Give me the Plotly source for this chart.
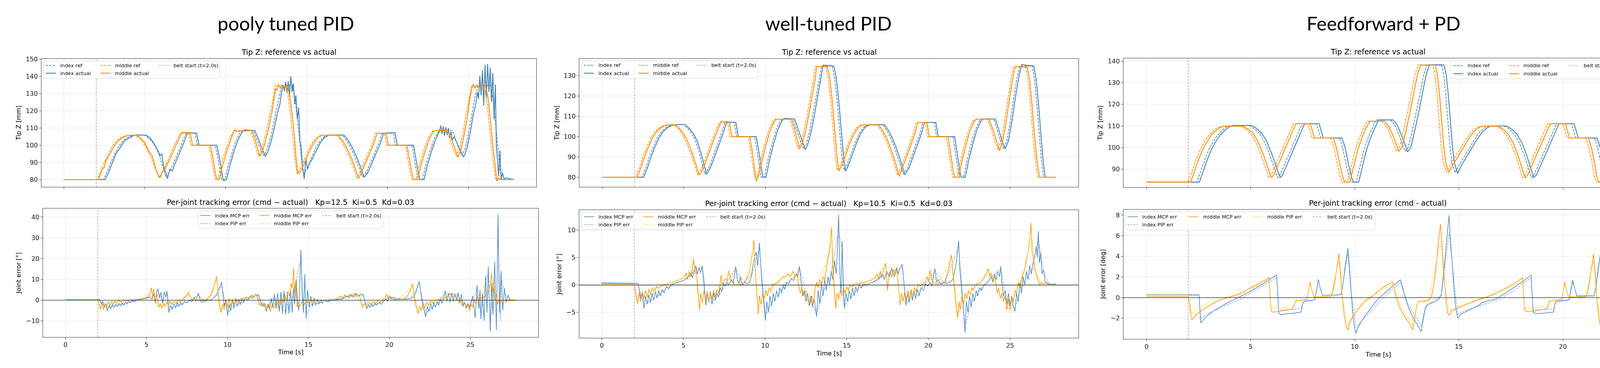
import plotly.graph_objects as go

W, H = 4198, 941

# ---------------- data ----------------
BELT_START = 2.0

# Tip Z reference (same trajectory for both PID runs), [t s, z mm]
PID_MID_REF = [(0,80),(2.05,80),(2.3,85),(2.5,90),(2.75,95),(3.0,99.5),(3.25,102.5),(3.5,104.3),(3.75,105.4),(4.0,105.8),(4.4,105.8),(4.65,104),(4.9,101.5),(5.15,97.5),(5.4,92.5),(5.65,86.5),(5.88,81),(6.05,83.5),(6.3,88.5),(6.55,94),(6.8,99.5),(7.05,104.5),(7.2,107),(7.7,107),(7.85,100),(8.95,100),(9.1,93),(9.25,85),(9.35,80),(9.5,80),(9.7,88),(9.95,96),(10.2,103),(10.45,107.5),(10.6,108.6),(11.5,108.6),(11.7,104),(11.9,97),(12.0,94),(12.15,96),(12.35,102),(12.55,110),(12.75,119),(12.95,128),(13.05,134.5),(13.7,134.5),(13.85,129),(14.0,118),(14.15,104),(14.3,90),(14.4,83.5),(14.6,86),(14.85,91.5),(15.1,97),(15.35,101.5),(15.6,104.5),(15.85,105.8),(16.85,105.8),(17.1,103),(17.35,99),(17.6,94),(17.85,88),(18.1,81),(18.3,84.5),(18.55,90),(18.8,95.5),(19.05,101),(19.25,107),(19.8,107),(19.95,100),(21.1,100),(21.25,92),(21.4,84),(21.5,80),(21.75,80),(21.95,88),(22.2,96),(22.45,103),(22.7,107.5),(22.85,108.6),(23.6,108.6),(23.85,103.5),(24.05,98),(24.25,93.5),(24.45,98),(24.65,107),(24.85,118),(25.05,128),(25.2,134.3),(25.95,134.3),(26.1,128),(26.25,115),(26.4,100),(26.55,88),(26.7,80),(27.8,80)]
PID_IDX_REF = [(0,80),(2.45,80),(2.7,85),(2.9,90),(3.15,95),(3.4,99.5),(3.65,102.5),(3.9,104.3),(4.15,105.4),(4.4,105.9),(5.0,105.9),(5.25,104),(5.5,101.5),(5.75,97.5),(5.95,92.5),(6.15,86.5),(6.3,81.5),(6.5,84),(6.75,89),(7.0,94.5),(7.25,100),(7.45,105),(7.55,107),(8.1,107),(8.25,100),(9.35,100),(9.5,93),(9.65,85),(9.75,80),(9.95,80),(10.15,88),(10.4,96),(10.65,103),(10.9,107.5),(11.05,108.7),(11.7,108.7),(11.9,104),(12.1,99),(12.35,94),(12.5,96),(12.7,102),(12.9,110),(13.1,119),(13.3,128),(13.45,134.8),(14.1,134.8),(14.25,129),(14.4,118),(14.55,104),(14.7,90),(14.82,83.5),(15.0,86),(15.25,91.5),(15.5,97),(15.75,101.5),(16.0,104.5),(16.3,105.9),(17.2,105.9),(17.45,103),(17.7,99),(17.95,94),(18.2,88),(18.45,81.5),(18.7,84.5),(18.95,90),(19.2,95.5),(19.45,101),(19.65,107),(20.35,107),(20.5,100),(21.5,100),(21.65,92),(21.8,84),(21.9,80),(22.15,80),(22.35,88),(22.6,96),(22.85,103),(23.1,107.5),(23.25,108.7),(24.0,108.7),(24.2,103.5),(24.4,98),(24.6,94),(24.8,98),(25.0,107),(25.2,118),(25.4,128),(25.6,134.8),(26.35,134.8),(26.5,128),(26.65,115),(26.8,100),(26.92,88),(27.05,80),(27.8,80)]

# poorly tuned PID: actual tip Z
P1_IDX_ACT = [(0,80),(2.55,80),(2.8,85),(3.0,90),(3.25,95.5),(3.5,99),(3.75,102.5),(4.0,104),(4.25,105.4),(4.5,106),(5.1,105.8),(5.35,104),(5.6,100.5),(5.8,97),(5.95,94),(6.05,95),(6.15,88),(6.3,84),(6.4,80.5),(6.55,86),(6.7,85),(6.85,89),(7.1,94.5),(7.35,100),(7.55,105),(7.65,107.2),(8.2,107),(8.35,100),(9.45,100),(9.6,93),(9.75,85),(9.85,79.5),(10.05,80),(10.25,88),(10.5,96),(10.75,103),(11.0,107.5),(11.15,109),(11.8,108.5),(12.0,104),(12.2,99),(12.45,93.5),(12.6,96),(12.8,102),(13.0,110),(13.2,119),(13.35,124),(13.45,131),(13.55,135),(13.62,131.5),(13.7,137),(13.78,130.6),(13.86,137.2),(13.94,128.3),(14.02,140.2),(14.1,131),(14.18,136),(14.26,124),(14.34,129),(14.42,115),(14.5,122),(14.58,103),(14.66,99),(14.74,88),(14.85,80.5),(14.95,92),(15.05,86),(15.2,90),(15.35,92),(15.6,97),(15.85,101.5),(16.1,104.5),(16.4,105.9),(17.3,105.9),(17.55,103),(17.8,99),(18.05,94),(18.3,88),(18.55,81.2),(18.8,84.5),(19.05,90),(19.3,95.5),(19.55,101),(19.75,107),(20.45,107.3),(20.6,100),(21.6,100),(21.75,92),(21.9,84),(22.0,80),(22.25,80),(22.45,88),(22.7,96),(22.95,103),(23.1,106),(23.2,108),(23.28,111.5),(23.36,106.5),(23.44,111),(23.52,105.5),(23.6,110.5),(23.68,106),(23.76,110),(23.84,104.5),(23.92,108),(24.0,103),(24.1,105),(24.3,101),(24.5,97),(24.7,93),(24.9,98),(25.1,107),(25.3,118),(25.45,124),(25.55,131),(25.62,127),(25.7,140.5),(25.78,129),(25.86,143.5),(25.94,123),(26.02,146.9),(26.1,127),(26.18,147.3),(26.26,131),(26.34,145.1),(26.42,125),(26.5,142.1),(26.58,115),(26.66,135.3),(26.72,100),(26.8,90),(26.86,82),(26.94,97),(27.02,80),(27.1,84),(27.2,80),(27.3,81),(27.8,80)]
P1_MID_ACT = [(0,80),(2.15,80),(2.35,86),(2.5,87),(2.6,91),(2.85,95),(3.1,99.5),(3.35,102.5),(3.6,104.3),(3.85,105.4),(4.1,105.8),(4.5,105.8),(4.75,104),(5.0,101.5),(5.25,96.5),(5.45,94),(5.6,89),(5.75,84),(5.95,81),(6.1,85),(6.25,86),(6.4,89),(6.65,94),(6.9,99.5),(7.15,104.5),(7.3,107.5),(7.8,107.3),(7.95,100),(9.05,100),(9.2,93),(9.35,84),(9.45,80),(9.6,80),(9.8,88),(10.05,96),(10.3,103),(10.45,107),(10.55,109),(10.65,108),(11.6,108.6),(11.8,104),(12.0,97),(12.1,93.5),(12.25,96),(12.45,102),(12.65,110),(12.85,119),(13.0,128),(13.08,133),(13.15,132),(13.25,135.5),(13.35,133.5),(13.45,135),(13.6,134),(13.8,134.5),(13.95,129),(14.1,118),(14.25,104),(14.35,92),(14.45,84),(14.55,83.5),(14.7,86),(14.95,91.5),(15.2,97),(15.45,101.5),(15.7,104.5),(15.95,105.8),(16.95,105.8),(17.2,103),(17.45,99),(17.7,94),(17.95,88),(18.2,80.5),(18.4,84.5),(18.65,90),(18.9,95.5),(19.15,101),(19.35,107),(19.9,107),(20.05,100),(21.2,100),(21.35,92),(21.5,84),(21.6,80),(21.85,80),(22.05,88),(22.3,96),(22.55,103),(22.8,107.5),(22.95,108.6),(23.7,108.6),(23.95,103.5),(24.15,98),(24.35,93),(24.55,98),(24.75,107),(24.95,118),(25.1,128),(25.2,133),(25.3,135.5),(25.4,133),(25.5,135),(25.65,133.5),(25.8,134.8),(26.05,134.3),(26.2,128),(26.35,115),(26.5,100),(26.65,88),(26.75,79),(26.85,81),(27.0,80),(27.8,80)]

# poorly tuned PID: joint errors [t s, deg]
P1_IDX_MCP = [(0,0.3),(1.0,0.35),(2.0,0.3),(2.1,0.2),(2.2,-1.5),(2.3,-0.5),(2.4,-3.5),(2.5,-1.8),(2.58,-5.1),(2.7,-2.5),(2.8,-4.2),(2.9,-2),(3.0,-3.5),(3.1,-1.8),(3.2,-3.2),(3.3,-1.5),(3.4,-2.8),(3.5,-1.2),(3.6,-2.4),(3.7,-0.8),(3.8,-1.9),(3.9,-0.5),(4.0,-1.3),(4.1,-0.2),(4.25,-0.8),(4.4,0.1),(4.6,0.3),(4.8,0.6),(5.0,1.0),(5.2,1.5),(5.35,0.5),(5.45,3.2),(5.55,-1.5),(5.65,4.5),(5.72,5.5),(5.8,1),(5.9,3.8),(6.0,-1.5),(6.1,4),(6.2,1.5),(6.27,4.5),(6.33,-2),(6.39,-6),(6.5,-2.5),(6.6,-4.5),(6.7,-1.5),(6.8,-3.8),(6.9,-1.2),(7.0,-3),(7.1,-0.8),(7.2,-2.2),(7.35,-0.5),(7.5,-1.3),(7.65,0.2),(7.8,-0.8),(7.95,1.5),(8.05,-0.5),(8.2,3.4),(8.3,0.5),(8.4,-1.2),(8.5,0.2),(8.6,-0.8),(8.75,0.3),(8.9,-0.3),(9.05,0.5),(9.2,1.5),(9.35,3),(9.5,6),(9.64,8.6),(9.72,3),(9.8,-3),(9.9,0.5),(10.02,-7.5),(10.1,-2),(10.2,-5),(10.3,0.5),(10.4,-4),(10.5,0.8),(10.6,-3),(10.7,0.5),(10.8,-2.2),(10.9,0.8),(11.0,-1),(11.1,1.2),(11.25,0),(11.4,1.8),(11.55,1),(11.7,2.5),(11.87,2.7),(11.95,2),(12.05,-1),(12.15,-3),(12.25,-1.5),(12.4,-5.4),(12.5,-2),(12.6,-4.5),(12.7,1),(12.8,-3.5),(12.9,3),(13.0,-4),(13.1,3.5),(13.2,-5.5),(13.3,4),(13.4,-6.5),(13.5,4.5),(13.6,-7),(13.7,4),(13.8,-6.5),(13.9,5),(14.0,-6),(14.08,6),(14.15,-2),(14.25,10),(14.32,0),(14.4,-5),(14.47,8),(14.54,24.3),(14.62,2),(14.7,-6),(14.78,12.6),(14.86,-9.1),(14.95,5),(15.05,-3.5),(15.15,2),(15.25,-3),(15.35,1),(15.45,-2.5),(15.55,0.5),(15.65,-2),(15.75,0.3),(15.85,-1.5),(16.0,0.2),(16.2,-0.8),(16.4,0),(16.6,0),(16.8,0.2),(17.0,0.4),(17.2,1.0),(17.35,2.2),(17.5,1.2),(17.65,2.8),(17.8,1.5),(17.95,3.3),(18.1,2),(18.25,3),(18.4,2.5),(18.5,-1),(18.6,-4.2),(18.7,-2),(18.8,-3.5),(18.9,-1.8),(19.0,-3),(19.1,-1.5),(19.2,-2.5),(19.35,-1.2),(19.5,-2),(19.65,-0.5),(19.8,0.5),(19.9,-0.5),(20.0,2.2),(20.1,0.5),(20.25,1.5),(20.4,0),(20.55,1),(20.7,0.5),(20.9,0.6),(21.1,0.5),(21.3,0.8),(21.5,1.5),(21.65,4),(21.75,7),(21.85,9.1),(21.95,3),(22.05,-2),(22.15,-5),(22.24,-8.1),(22.35,-3),(22.45,-5.5),(22.55,-1.5),(22.65,-4.5),(22.75,-1),(22.85,-3.5),(22.95,-0.5),(23.05,-2.5),(23.15,0.5),(23.25,-1.5),(23.35,1),(23.45,4.5),(23.55,-0.5),(23.65,3.5),(23.75,-1),(23.85,3.6),(23.95,-0.5),(24.05,3),(24.15,0),(24.25,3.5),(24.35,-1),(24.45,2.8),(24.55,-3),(24.65,-1),(24.75,-4),(24.85,-1.5),(24.95,-3.5),(25.05,-0.5),(25.15,2),(25.3,-8.5),(25.42,7.3),(25.52,-4),(25.6,5),(25.65,-9.1),(25.75,3),(25.85,-9.8),(25.95,11.7),(26.03,-6),(26.11,16.2),(26.23,-15),(26.31,8),(26.4,-7),(26.51,18.4),(26.61,-14.4),(26.71,41.5),(26.8,-6),(26.9,14),(27.0,-5),(27.1,5.9),(27.2,-1),(27.34,2.4),(27.45,0),(27.8,0)]
P1_IDX_PIP = [(0,0.4),(2.0,0.4),(2.2,-1),(2.5,-3.5),(2.8,-3),(3.2,-2.5),(3.6,-1.8),(4.0,-0.8),(4.4,0),(5.0,0.8),(5.4,2),(5.7,4.5),(6.0,0),(6.3,3.5),(6.4,-4.5),(6.8,-3),(7.2,-1.8),(7.6,-0.5),(8.2,2.5),(8.5,-0.5),(9.0,0.3),(9.4,2.5),(9.64,7),(10.02,-6),(10.4,-3),(10.8,-1.5),(11.3,0.5),(11.87,2.3),(12.4,-4.5),(12.9,2),(13.2,-4.5),(13.5,3.5),(13.8,-5),(14.1,4),(14.54,20),(14.7,-4),(14.78,10),(14.86,-7.5),(15.2,-2),(15.8,-1),(16.5,0),(17.3,1.5),(17.95,2.8),(18.4,2),(18.6,-3.5),(19.0,-2.5),(19.6,-0.5),(20.0,1.8),(20.6,0.5),(21.3,0.7),(21.85,7.5),(22.24,-6.5),(22.6,-3.5),(23.0,-1.5),(23.4,3.5),(23.8,3),(24.2,2.8),(24.6,-2),(25.0,-2.5),(25.42,5.5),(25.65,-7),(25.95,9.5),(26.11,13),(26.23,-12),(26.51,15),(26.61,-11.5),(26.71,33),(26.86,-10),(26.9,11),(27.1,4.5),(27.3,0.5),(27.8,0)]
P1_MID_MCP = [(0,0.3),(2.0,0.3),(2.08,-2),(2.15,-4.8),(2.25,-1),(2.35,-4.5),(2.45,-1.5),(2.55,-3),(2.65,-0.8),(2.75,-2.5),(2.85,-0.5),(2.95,-2),(3.05,-0.3),(3.15,-1.5),(3.3,0),(3.45,-1),(3.6,0.2),(3.8,-0.5),(4.0,0.2),(4.3,0.3),(4.6,0.6),(4.9,1.2),(5.1,1.5),(5.2,3),(5.3,6),(5.38,1),(5.45,5.5),(5.55,-1),(5.65,3),(5.75,-3.5),(5.85,-1.5),(5.95,-4),(6.05,-1.5),(6.15,-3),(6.25,-1),(6.35,-2.5),(6.45,-0.5),(6.55,-2),(6.7,-0.5),(6.85,-1.5),(7.0,0.2),(7.15,-0.5),(7.3,1),(7.5,2.2),(7.6,3.8),(7.7,1.5),(7.85,0),(8.0,0.3),(8.2,-0.3),(8.4,0.3),(8.6,0),(8.8,1),(9.0,2.5),(9.15,6),(9.25,9),(9.33,11.4),(9.42,4),(9.5,-2),(9.6,-6),(9.7,-2),(9.8,-4.5),(9.9,0.5),(10.0,-3.5),(10.1,1),(10.2,-3),(10.3,0.5),(10.4,-2),(10.55,0.5),(10.7,-1),(10.85,1),(11.0,0.5),(11.2,1.5),(11.35,1),(11.5,2.5),(11.6,1.5),(11.75,3),(11.9,0),(12.0,-2.5),(12.1,-1),(12.2,-3),(12.3,-1.5),(12.45,-4),(12.55,-2),(12.66,-5.5),(12.75,-2.5),(12.85,-4),(12.95,-1),(13.05,-3),(13.15,0),(13.25,-2),(13.35,1),(13.45,-1.5),(13.55,2),(13.65,0),(13.75,4),(13.85,2),(13.95,8),(14.02,6),(14.09,15.5),(14.16,3),(14.22,9),(14.3,-3),(14.38,-1.5),(14.46,-3),(14.6,-1),(14.75,-2),(14.9,-0.5),(15.05,-1.5),(15.2,0),(15.35,-1),(15.5,0.2),(15.7,-0.5),(15.9,0),(16.2,0.2),(16.5,0.3),(16.8,0.8),(17.0,2),(17.1,1),(17.25,2.5),(17.4,1.5),(17.55,2.8),(17.7,1.5),(17.85,3.3),(18.0,1.8),(18.15,2.5),(18.25,-1),(18.35,-3.5),(18.45,-1.5),(18.55,-2.5),(18.7,-1),(18.85,-2),(19.0,-0.8),(19.15,-1.5),(19.3,-0.3),(19.45,-1),(19.6,0.2),(19.75,1.2),(19.85,3),(19.95,0.5),(20.1,1.5),(20.25,0.2),(20.4,0.5),(20.6,0.3),(20.8,0.5),(21.0,1),(21.15,2.5),(21.3,5),(21.43,7.9),(21.52,3),(21.6,-1.5),(21.7,-4),(21.78,-6.5),(21.88,-3),(21.98,-5),(22.1,-1.5),(22.2,-3.5),(22.3,-1),(22.42,-2.5),(22.55,-0.5),(22.7,-1.5),(22.85,0),(23.0,0.2),(23.2,0.5),(23.4,1),(23.6,2),(23.75,3),(23.9,1.5),(24.05,2.5),(24.2,0.5),(24.3,-1.5),(24.4,-0.5),(24.5,-2.5),(24.6,-1),(24.75,-3),(24.85,-2),(24.96,-5),(25.05,-2),(25.15,-3.5),(25.25,0.5),(25.35,-2),(25.45,2),(25.55,0),(25.65,1.5),(25.75,0.5),(25.9,2),(26.05,3),(26.15,5),(26.25,8),(26.31,13),(26.38,4),(26.45,8),(26.52,0),(26.6,3),(26.68,-2),(26.78,0.5),(26.88,-1),(27.0,0),(27.2,-0.2),(27.8,-0.2)]
P1_MID_PIP = [(0,0.2),(2.0,0.2),(2.15,-3.5),(2.4,-3),(2.8,-1.5),(3.3,-0.5),(4.0,0),(4.9,1),(5.3,4.5),(5.45,4),(5.75,-3),(5.95,-3),(6.4,-1.5),(7.0,0),(7.6,3),(8.0,0.2),(8.8,0.8),(9.33,9.5),(9.6,-5),(10.0,-2.5),(10.5,0),(11.0,0.5),(11.75,2.5),(12.2,-2.5),(12.66,-4.5),(13.2,-1.5),(13.75,3.5),(14.09,12.5),(14.3,-2.5),(14.75,-1.5),(15.5,0),(16.5,0.3),(17.3,2),(17.85,2.8),(18.35,-3),(19.0,-1),(19.85,2.5),(20.5,0.4),(21.43,6.5),(21.78,-5.5),(22.2,-3),(22.85,0),(23.75,2.5),(24.2,0.5),(24.96,-4),(25.5,0.5),(26.31,10.5),(26.6,2.5),(27.0,0),(27.8,-0.1)]

# well-tuned PID: actual tip Z
P2_IDX_ACT = [(0,80),(2.55,80),(2.8,85),(3.0,90),(3.25,95),(3.5,99.5),(3.75,102.5),(4.0,104.3),(4.25,105.4),(4.5,105.9),(5.1,105.9),(5.35,104),(5.6,101.5),(5.85,97.5),(6.05,92.5),(6.25,86.5),(6.4,81.5),(6.6,84),(6.85,89),(7.1,94.5),(7.35,100),(7.55,105),(7.65,107.2),(8.2,107),(8.35,100),(9.45,100),(9.6,93),(9.75,85),(9.85,80),(10.05,80),(10.25,88),(10.5,96),(10.75,103),(11.0,107.5),(11.15,109),(11.8,108.7),(12.0,104),(12.2,99),(12.45,93.5),(12.6,96),(12.8,102),(13.0,110),(13.2,119),(13.4,128),(13.55,135.2),(14.2,134.8),(14.35,129),(14.5,118),(14.65,104),(14.8,90),(14.92,83),(15.1,86),(15.35,91.5),(15.6,97),(15.85,101.5),(16.1,104.5),(16.4,105.9),(17.3,105.9),(17.55,103),(17.8,99),(18.05,94),(18.3,88),(18.55,81.2),(18.8,84.5),(19.05,90),(19.3,95.5),(19.55,101),(19.75,107),(20.45,107),(20.6,100),(21.6,100),(21.75,92),(21.9,84),(22.0,80),(22.25,80),(22.45,88),(22.7,96),(22.95,103),(23.2,107.5),(23.35,108.7),(24.1,108.7),(24.3,103.5),(24.5,98),(24.7,94),(24.9,98),(25.1,107),(25.3,118),(25.5,128),(25.7,135.5),(26.45,134.8),(26.6,128),(26.75,115),(26.9,100),(27.02,88),(27.15,80),(27.8,80)]
P2_MID_ACT = [(0,80),(2.15,80),(2.4,85),(2.6,90),(2.85,95),(3.1,99.5),(3.35,102.5),(3.6,104.3),(3.85,105.4),(4.1,105.8),(4.5,105.8),(4.75,104),(5.0,101.5),(5.25,97.5),(5.5,92.5),(5.75,86.5),(5.95,81),(6.15,83.5),(6.4,88.5),(6.65,94),(6.9,99.5),(7.15,104.5),(7.3,107.5),(7.8,107.3),(7.95,100),(9.05,100),(9.2,93),(9.35,84),(9.45,78),(9.6,81),(9.8,88),(10.05,96),(10.3,103),(10.55,107.5),(10.7,108.6),(11.6,108.6),(11.8,104),(12.0,97),(12.1,94),(12.25,96),(12.45,102),(12.65,110),(12.85,119),(13.05,128),(13.15,134.5),(13.8,134.5),(13.95,129),(14.1,118),(14.25,104),(14.4,90),(14.5,83),(14.7,86),(14.95,91.5),(15.2,97),(15.45,101.5),(15.7,104.5),(15.95,105.8),(16.95,105.8),(17.2,103),(17.45,99),(17.7,94),(17.95,88),(18.2,80.5),(18.4,84.5),(18.65,90),(18.9,95.5),(19.15,101),(19.35,107),(19.9,107),(20.05,100),(21.2,100),(21.35,92),(21.5,84),(21.6,80),(21.85,80),(22.05,88),(22.3,96),(22.55,103),(22.8,107.5),(22.95,108.6),(23.7,108.6),(23.95,103.5),(24.15,98),(24.35,93),(24.55,98),(24.75,107),(24.95,118),(25.15,128),(25.3,134.5),(26.05,134.3),(26.2,128),(26.35,115),(26.5,100),(26.65,88),(26.8,80),(27.8,80)]

# well-tuned PID: joint errors
P2_IDX_MCP = [(0,0.4),(1.0,0.35),(2.0,0.35),(2.2,0.3),(2.3,-1),(2.4,-2.5),(2.5,-1.5),(2.58,-4.3),(2.68,-2),(2.78,-3.5),(2.88,-1.8),(2.98,-3.2),(3.08,-1.5),(3.18,-2.8),(3.28,-1.2),(3.38,-2.4),(3.48,-1),(3.58,-2),(3.7,-0.8),(3.82,-1.5),(3.95,-0.3),(4.1,-0.7),(4.25,0.1),(4.45,0.3),(4.65,0.5),(4.85,0.7),(5.05,0.9),(5.2,1.2),(5.35,1.6),(5.45,2.2),(5.55,1.3),(5.65,2.8),(5.75,3.5),(5.85,2),(5.95,3.2),(6.05,2.2),(6.15,3.5),(6.25,1),(6.3,-1.5),(6.36,-3.7),(6.45,-1.5),(6.55,-3),(6.65,-1.2),(6.75,-3.5),(6.85,-1.5),(6.95,-2.8),(7.05,-1.5),(7.15,-2.2),(7.25,-0.5),(7.35,-1.2),(7.45,0.3),(7.55,-0.2),(7.65,0.5),(7.75,0),(7.85,0.5),(7.95,1),(8.05,0.2),(8.2,3.4),(8.3,1),(8.4,0.2),(8.5,1.5),(8.6,0),(8.75,0.5),(8.9,0.2),(9.05,0.5),(9.15,1.5),(9.25,3.5),(9.35,5),(9.45,6),(9.55,3.5),(9.65,7.7),(9.72,4),(9.8,0.5),(9.88,-2),(9.95,-4),(10.02,-6.5),(10.1,-3),(10.2,-5),(10.3,-2),(10.4,-3.8),(10.5,-1.5),(10.6,-3),(10.7,-1),(10.8,-2.2),(10.9,-0.5),(11.0,-1.5),(11.1,0),(11.2,-0.8),(11.3,0.5),(11.45,0.2),(11.6,1.2),(11.75,0.8),(11.9,2),(12.0,1.5),(12.1,3.4),(12.2,0.5),(12.3,-2),(12.4,-1),(12.5,-3),(12.6,-1.5),(12.7,-3.8),(12.8,-2),(12.9,-4),(13.0,-2.5),(13.08,-4.5),(13.15,-5.8),(13.25,-1),(13.35,-3.5),(13.45,0.5),(13.55,-2),(13.65,1),(13.75,-1),(13.85,1.5),(13.95,0),(14.05,2.5),(14.15,1),(14.25,4.5),(14.35,2),(14.42,6),(14.5,12.8),(14.58,2),(14.65,-1.5),(14.72,8),(14.8,-2),(14.86,-4.3),(14.95,-1.5),(15.05,-3),(15.15,-1),(15.25,-2.5),(15.35,-0.5),(15.45,-2),(15.55,-0.3),(15.65,-1.2),(15.75,0),(15.9,-0.5),(16.05,0.2),(16.2,0),(16.4,0.3),(16.6,0.5),(16.8,0.8),(17.0,1.2),(17.15,2),(17.3,1),(17.45,2.5),(17.6,1.5),(17.75,3),(17.9,1.5),(18.05,3.2),(18.15,2),(18.25,3),(18.4,3.8),(18.48,1),(18.55,-1.5),(18.62,-3.7),(18.72,-1.5),(18.82,-3.2),(18.92,-1.2),(19.02,-2.8),(19.12,-1),(19.22,-2.5),(19.32,-0.8),(19.42,-2),(19.55,-0.5),(19.7,-1),(19.82,0.2),(19.95,-0.2),(20.1,0.5),(20.2,-0.2),(20.3,1.5),(20.4,3),(20.5,0.5),(20.6,1),(20.75,0.2),(20.9,0.5),(21.1,0.3),(21.3,0.5),(21.5,1),(21.6,2.5),(21.7,4),(21.78,6),(21.85,8.1),(21.92,3),(22.0,0),(22.08,-2.5),(22.16,-5),(22.24,-8.7),(22.32,-3),(22.42,-5),(22.52,-2),(22.62,-4),(22.72,-1.5),(22.82,-3),(22.92,-1),(23.02,-2),(23.12,-0.5),(23.25,-1),(23.4,0),(23.55,0.3),(23.7,0.8),(23.85,1.5),(23.95,0.5),(24.05,2),(24.15,1),(24.25,2.5),(24.35,1.5),(24.43,3.4),(24.5,0.5),(24.6,-2),(24.7,-1),(24.8,-3.5),(24.9,-1.5),(25.0,-3.8),(25.1,-2),(25.2,-4),(25.3,-4.8),(25.4,-1.5),(25.5,-3),(25.6,0.5),(25.7,-1.5),(25.8,1.5),(25.9,0),(26.0,2.5),(26.1,1),(26.2,3.5),(26.3,2),(26.4,4),(26.5,5),(26.6,7),(26.66,5),(26.73,9.8),(26.8,4),(26.88,6),(26.95,2),(27.05,2.8),(27.15,0.5),(27.3,0.2),(27.5,0),(27.8,0.1)]
P2_IDX_PIP = [(0,0.3),(2.0,0.3),(2.2,0.25),(2.58,-3.8),(3.0,-2.8),(3.5,-1.8),(4.0,-0.5),(4.5,0.3),(5.0,0.8),(5.5,2),(5.75,3),(6.15,3),(6.36,-3.3),(6.8,-3),(7.2,-1.8),(7.6,0.2),(8.2,3),(8.6,0.2),(9.2,2),(9.65,6.8),(10.02,-5.5),(10.4,-3.3),(10.8,-1.8),(11.3,0.3),(11.9,1.8),(12.1,3),(12.6,-2),(13.15,-5.2),(13.6,-1),(14.0,1.5),(14.5,10),(14.72,6.5),(14.86,-3.8),(15.3,-2),(15.8,-0.5),(16.5,0.4),(17.5,2),(18.4,3.3),(18.62,-3.2),(19.0,-2.3),(19.6,-0.5),(20.4,2.5),(21.0,0.3),(21.85,7),(22.24,-7.5),(22.6,-3.5),(23.2,-0.8),(23.8,1.2),(24.43,3),(24.8,-3),(25.3,-4.2),(25.8,0.5),(26.3,2.5),(26.73,8.5),(27.05,2.4),(27.4,0),(27.8,0.1)]
P2_MID_MCP = [(0,0.2),(2.0,0.2),(2.05,-1),(2.12,-2.5),(2.2,-3.4),(2.28,-1.5),(2.38,-3),(2.48,-1.2),(2.58,-2.5),(2.68,-1),(2.78,-2.2),(2.88,-0.8),(2.98,-1.8),(3.1,-0.5),(3.22,-1.2),(3.35,-0.3),(3.5,-0.6),(3.7,0),(3.9,0.1),(4.1,0.3),(4.3,0.5),(4.5,0.7),(4.7,0.9),(4.9,1.1),(5.05,1.4),(5.15,2.2),(5.25,1),(5.35,2.5),(5.45,1.5),(5.55,3),(5.62,4.8),(5.7,2),(5.78,3),(5.85,0.5),(5.92,-2.5),(5.98,-4.5),(6.05,-1.5),(6.15,-3.2),(6.25,-1),(6.35,-2.8),(6.45,-1.2),(6.55,-3),(6.65,-1.5),(6.75,-2.5),(6.85,-1),(6.95,-2.2),(7.05,-0.8),(7.15,-1.5),(7.25,0),(7.3,1.8),(7.38,0.2),(7.48,0.5),(7.58,1.2),(7.68,0.8),(7.78,2.6),(7.88,1),(8.0,0.5),(8.15,0),(8.3,0),(8.5,0.1),(8.7,0.3),(8.85,1),(9.0,2),(9.1,3.5),(9.2,5.5),(9.25,6),(9.31,8.2),(9.38,4),(9.45,0),(9.52,-2.5),(9.58,-5.3),(9.65,-2),(9.75,-3.5),(9.85,-1.5),(9.95,-2.5),(10.05,-1),(10.15,-2),(10.25,-0.5),(10.35,-1.2),(10.5,0.2),(10.65,0.2),(10.8,0.5),(10.95,1),(11.1,1.5),(11.25,1.5),(11.4,2),(11.55,1.5),(11.7,2.5),(11.85,1.5),(11.95,2.2),(12.05,0),(12.15,-1.5),(12.25,-0.5),(12.35,-2),(12.45,-1),(12.55,-2.5),(12.65,-3),(12.75,-3.7),(12.85,-2),(12.95,-3.5),(13.05,-1),(13.15,0.5),(13.25,-0.5),(13.35,1),(13.45,0),(13.55,1.5),(13.65,1),(13.75,3),(13.85,5),(13.95,6),(14.02,9),(14.07,10.5),(14.12,5),(14.18,1),(14.25,-1.5),(14.32,-4.3),(14.4,-1.5),(14.5,-2.5),(14.6,-1),(14.7,-2),(14.8,-0.5),(14.9,-1.5),(15.0,-0.3),(15.1,-1),(15.2,0),(15.35,-0.3),(15.5,0.2),(15.7,0.2),(15.9,0.3),(16.1,0.5),(16.3,0.7),(16.5,0.9),(16.7,1.3),(16.85,2),(16.95,1),(17.05,2.5),(17.15,1.5),(17.25,2.8),(17.38,4),(17.45,1),(17.5,-1),(17.58,1.5),(17.65,2.5),(17.75,1.5),(17.85,2.8),(17.95,1.8),(18.05,3),(18.12,1),(18.2,-1.5),(18.27,-3.7),(18.35,-1.5),(18.45,-3),(18.55,-1.2),(18.65,-2.8),(18.75,-1),(18.85,-2.5),(18.95,-0.8),(19.05,-2),(19.15,-0.5),(19.25,-1.2),(19.35,0),(19.5,-0.2),(19.65,0.2),(19.8,0.5),(19.92,1.5),(20.02,0.5),(20.1,2.8),(20.2,1),(20.3,0.5),(20.45,0.2),(20.6,0.3),(20.8,0.2),(21.0,0.5),(21.1,1.5),(21.2,2.5),(21.3,4),(21.42,5.5),(21.5,2),(21.58,0),(21.65,-2.5),(21.72,-4.5),(21.8,-6),(21.88,-3),(21.95,-4.5),(22.05,-2),(22.15,-3.5),(22.25,-1.5),(22.35,-2.5),(22.45,-1),(22.55,-1.8),(22.65,-0.5),(22.75,-1),(22.85,0),(23.0,0.2),(23.15,0.4),(23.3,0.8),(23.45,1.5),(23.55,2.2),(23.66,3),(23.75,1.5),(23.85,2.2),(23.95,1),(24.05,1.5),(24.15,0),(24.22,-1.5),(24.3,-0.5),(24.4,-2.5),(24.5,-1.5),(24.6,-3),(24.7,-2),(24.8,-4.5),(24.9,-2.5),(25.0,-4.6),(25.1,-2),(25.2,-3),(25.3,-1),(25.4,-1.5),(25.5,0.5),(25.6,-0.5),(25.7,1),(25.8,2),(25.9,3),(26.0,4.5),(26.1,6),(26.2,8),(26.28,11.3),(26.35,6),(26.42,5),(26.5,3),(26.6,2),(26.7,1),(26.8,0),(26.9,0.5),(27.0,0.2),(27.2,0.4),(27.5,0.2),(27.8,0.3)]
P2_MID_PIP = [(0,0.15),(2.0,0.15),(2.2,-3),(2.6,-2.2),(3.0,-1.5),(3.5,-0.5),(4.0,0.2),(5.0,1.2),(5.62,4.2),(5.98,-4),(6.5,-2.6),(7.0,-1.8),(7.3,1.5),(7.78,2.3),(8.2,0),(9.0,1.8),(9.31,7.3),(9.58,-4.7),(10.0,-2),(10.5,0.2),(11.4,1.8),(11.95,2),(12.75,-3.3),(13.2,0.3),(13.8,4.5),(14.07,9.5),(14.32,-3.8),(14.8,-1.2),(15.5,0.2),(16.5,0.8),(17.38,3.5),(18.05,2.6),(18.27,-3.3),(18.8,-2.2),(19.35,-0.2),(20.1,2.4),(20.6,0.3),(21.42,5),(21.8,-5.3),(22.3,-2.5),(22.85,0),(23.66,2.6),(24.15,0),(25.0,-4),(25.4,-1.2),(26.0,4),(26.28,10),(26.6,1.8),(27.0,0.2),(27.8,0.2)]

# Feedforward + PD: tip Z
FF_IDX_REF = [(0,84),(2.42,84),(2.62,89.5),(2.82,95),(3.02,99.5),(3.22,103),(3.42,105.8),(3.62,107.8),(3.82,109.4),(4.02,110.2),(4.92,110.2),(5.17,108.8),(5.42,106.6),(5.67,102.5),(5.92,96.5),(6.12,91),(6.3,86),(6.42,87.5),(7.47,111),(8.17,111),(8.37,104.4),(9.27,104.4),(9.42,100),(9.57,93),(9.72,86.5),(9.82,84),(10.07,84),(10.22,90),(10.42,98),(10.62,104),(10.82,108.5),(11.02,112.8),(11.72,112.8),(11.92,110.5),(12.12,106),(12.32,101),(12.42,98.2),(12.57,100),(12.77,108),(12.97,117),(13.17,127),(13.32,134),(13.47,138.4),(14.17,138.4),(14.27,134),(14.37,125),(14.47,113),(14.57,101),(14.67,93),(14.82,88.3),(15.02,92),(15.27,96),(15.52,100),(15.77,104),(16.02,107.3),(16.27,109.3),(16.42,110),(17.17,110),(17.42,108.6),(17.67,106.2),(17.92,102),(18.12,97),(18.32,91),(18.48,86),(18.62,87.5),(19.69,111),(20.42,111),(20.62,104.4),(21.52,104.4),(21.67,100),(21.82,93),(21.92,87),(22.02,84),(22.12,84.5),(22.24,88.5)]
FF_IDX_ACT = [(0,84),(2.54,84),(2.74,89.5),(2.94,95),(3.14,99.5),(3.34,103),(3.54,105.8),(3.74,107.8),(3.94,109.4),(4.14,110.2),(5.04,110.2),(5.29,108.8),(5.54,106.6),(5.79,102.5),(6.04,96.5),(6.24,91),(6.42,86),(6.54,87.5),(7.59,111),(8.29,111),(8.49,104.4),(9.39,104.4),(9.54,100),(9.69,93),(9.84,86.5),(9.94,84),(10.19,84),(10.34,90),(10.54,98),(10.74,104),(10.94,108.5),(11.14,112.8),(11.84,112.8),(12.04,110.5),(12.24,106),(12.44,101),(12.54,98),(12.69,100),(12.89,108),(13.09,117),(13.29,127),(13.44,134),(13.59,138.2),(14.29,138.2),(14.39,134),(14.49,125),(14.59,113),(14.69,101),(14.79,93),(14.94,88),(15.14,92),(15.39,96),(15.64,100),(15.89,104),(16.14,107.3),(16.39,109.3),(16.54,110),(17.29,110),(17.54,108.6),(17.79,106.2),(18.04,102),(18.24,97),(18.44,91),(18.6,86),(18.74,87.5),(19.81,111),(20.54,111),(20.74,104.4),(21.64,104.4),(21.79,100),(21.94,93),(22.04,87),(22.14,84),(22.24,85)]
FF_MID_REF = [(0,84),(2.0,84),(2.2,89.5),(2.4,95),(2.6,99.5),(2.8,103),(3.0,105.8),(3.2,107.8),(3.4,109.2),(3.6,109.9),(4.5,109.9),(4.75,108.6),(5.0,106.5),(5.25,102.5),(5.5,96.5),(5.7,91),(5.88,86),(6.0,87.5),(7.05,111),(7.75,111),(7.95,104.4),(8.85,104.4),(9.0,100),(9.15,93),(9.3,86.5),(9.4,84),(9.65,84),(9.8,90),(10.0,98),(10.2,104),(10.4,108.5),(10.6,112.2),(11.3,112.2),(11.5,110),(11.7,106),(11.9,101),(12.0,98.2),(12.15,100),(12.35,108),(12.55,117),(12.75,127),(12.9,134),(13.05,138.3),(13.75,138.3),(13.85,134),(13.95,125),(14.05,113),(14.15,101),(14.25,93),(14.4,88.5),(14.6,92),(14.85,96),(15.1,100),(15.35,104),(15.6,107.3),(15.85,109.3),(16.0,109.9),(16.75,109.9),(17.0,108.6),(17.25,106.2),(17.5,102),(17.7,97),(17.9,91),(18.06,86),(18.2,87.5),(19.27,111),(20.0,111),(20.2,104.4),(21.1,104.4),(21.25,100),(21.4,93),(21.5,87),(21.6,84),(21.85,84),(22.0,90),(22.24,104)]
FF_MID_ACT = [(0,84),(2.12,84),(2.32,89.5),(2.52,95),(2.72,99.5),(2.92,103),(3.12,105.8),(3.32,107.8),(3.52,109.2),(3.72,109.9),(4.62,109.9),(4.87,108.6),(5.12,106.5),(5.37,102.5),(5.62,96.5),(5.82,91),(6.0,86),(6.12,87.5),(7.17,111),(7.87,111),(8.07,104.4),(8.97,104.4),(9.12,100),(9.27,93),(9.42,86.5),(9.52,84),(9.77,84),(9.92,90),(10.12,98),(10.32,104),(10.52,108.5),(10.72,112.2),(11.42,112.2),(11.62,110),(11.82,106),(12.02,101),(12.12,98.2),(12.27,100),(12.47,108),(12.67,117),(12.87,127),(13.02,134),(13.17,138.1),(13.87,138.1),(13.97,134),(14.07,125),(14.17,113),(14.27,101),(14.37,93),(14.52,88.5),(14.72,92),(14.97,96),(15.22,100),(15.47,104),(15.72,107.3),(15.97,109.3),(16.12,109.9),(16.87,109.9),(17.12,108.6),(17.37,106.2),(17.62,102),(17.82,97),(18.02,91),(18.18,86),(18.32,87.5),(19.39,111),(20.12,111),(20.32,104.4),(21.22,104.4),(21.37,100),(21.52,93),(21.62,87),(21.72,84),(21.97,84),(22.12,90),(22.24,101.8)]

# Feedforward + PD: joint errors
FF_IDX_MCP = [(0,0.25),(2.52,0.25),(2.56,-1),(2.6,-2.45),(2.75,-2.1),(3.0,-1.6),(3.25,-1.25),(3.5,-0.95),(3.75,-0.65),(4.0,-0.4),(4.2,-0.2),(4.38,0),(4.6,0.2),(4.85,0.45),(5.1,0.75),(5.35,1.05),(5.6,1.35),(5.85,1.7),(6.1,2.0),(6.25,2.18),(6.3,0.5),(6.35,-1.5),(6.45,-1.65),(6.8,-1.55),(7.1,-1.5),(7.42,-1.4),(7.5,-0.6),(7.58,-0.35),(7.9,-0.3),(8.08,-0.2),(8.17,0.8),(8.25,1.78),(8.33,1),(8.45,0.2),(8.8,0.25),(9.2,0.25),(9.35,0.35),(9.45,1.5),(9.55,3.2),(9.67,4.77),(9.75,3),(9.83,0.5),(9.9,-1.5),(9.98,-2.8),(10.06,-3.46),(10.15,-2.9),(10.35,-2.2),(10.6,-1.5),(10.85,-0.8),(11.05,-0.3),(11.2,0),(11.45,0.45),(11.7,0.9),(11.95,1.3),(12.19,1.72),(12.28,1.2),(12.4,0.2),(12.55,-0.8),(12.7,-1.5),(12.85,-2.1),(13.0,-2.6),(13.12,-3.0),(13.19,-3.3),(13.3,-2),(13.4,-1),(13.5,-0.7),(13.6,-0.6),(13.85,-0.4),(14.05,-0.1),(14.16,0.3),(14.25,2),(14.35,4),(14.45,6.3),(14.53,7.96),(14.6,5.5),(14.68,3.5),(14.76,1),(14.85,-1),(14.95,-2),(15.1,-1.6),(15.4,-1.3),(15.7,-1.0),(16.0,-0.7),(16.1,-0.5),(16.4,-0.3),(16.7,-0.2),(16.9,0),(17.2,0.4),(17.5,0.8),(17.8,1.2),(18.1,1.6),(18.35,2.0),(18.47,2.2),(18.52,0.5),(18.57,-1.4),(18.7,-1.55),(19.1,-1.5),(19.55,-1.4),(19.62,-0.6),(19.7,-0.35),(20.1,-0.3),(20.3,-0.2),(20.38,0.8),(20.47,1.7),(20.55,1),(20.67,0.15),(21.1,0.15),(21.5,0.15),(21.6,1.2),(21.7,3.0),(21.85,4.8),(21.93,3.2),(22.0,1),(22.08,-0.8),(22.16,-2.2),(22.24,-3.5)]
FF_IDX_PIP = [(0,0.3),(2.52,0.3),(2.6,-2.0),(3.0,-1.5),(3.5,-1.05),(4.0,-0.6),(4.5,-0.15),(5.0,0.45),(5.5,1.05),(6.0,1.6),(6.25,1.95),(6.35,-1.2),(6.5,-1.2),(7.0,-1.15),(7.42,-1.05),(7.55,-0.35),(8.08,-0.2),(8.25,1.6),(8.45,0.2),(9.35,0.3),(9.67,4.3),(9.8,1),(10.06,-2.9),(10.4,-2.1),(10.9,-1.1),(11.3,-0.2),(11.7,0.6),(12.19,1.45),(12.6,-0.8),(13.19,-2.7),(13.4,-0.8),(14.16,0.2),(14.53,6.3),(14.7,3),(14.95,-1.6),(15.5,-1.1),(16.0,-0.8),(16.9,-0.2),(17.5,0.5),(18.47,1.9),(18.57,-1.2),(19.55,-1.1),(19.65,-0.35),(20.3,-0.2),(20.47,1.5),(20.67,0.2),(21.5,0.2),(21.85,4.2),(22.0,1),(22.24,-2.8)]
FF_MID_MCP = [(0,0.1),(2.0,0.1),(2.06,-0.5),(2.12,-1.6),(2.18,-2.15),(2.3,-1.8),(2.5,-1.45),(2.75,-1.1),(3.0,-0.8),(3.25,-0.5),(3.5,-0.25),(3.75,-0.1),(4.0,0.05),(4.25,0.2),(4.5,0.4),(4.75,0.65),(5.0,0.95),(5.25,1.2),(5.5,1.5),(5.75,1.75),(5.88,1.95),(5.93,0.5),(5.98,-1.2),(6.05,-1.4),(6.3,-1.35),(6.6,-1.25),(6.9,-1.15),(7.05,-1.05),(7.12,-0.5),(7.2,-0.3),(7.5,-0.25),(7.7,-0.2),(7.78,0.6),(7.85,1.52),(7.93,0.8),(8.05,0.05),(8.4,0.05),(8.85,0.05),(8.95,0.6),(9.05,1.6),(9.15,3.0),(9.24,4.25),(9.32,2.5),(9.4,0),(9.5,-1.8),(9.6,-2.8),(9.67,-3.15),(9.75,-2.5),(9.9,-1.9),(10.1,-1.3),(10.3,-0.8),(10.5,-0.35),(10.7,-0.05),(10.77,0),(11.0,0.4),(11.2,0.75),(11.4,1.05),(11.6,1.3),(11.81,1.5),(11.9,0.8),(12.0,0),(12.15,-0.9),(12.3,-1.5),(12.45,-2),(12.6,-2.4),(12.72,-2.8),(12.79,-3.1),(12.88,-2),(12.97,-0.8),(13.05,-0.4),(13.3,-0.35),(13.55,-0.3),(13.7,0.2),(13.82,1.5),(13.92,3.2),(14.0,5),(14.06,6.2),(14.12,7.1),(14.2,5),(14.3,2),(14.4,-0.5),(14.47,-1.5),(14.53,-1.72),(14.65,-1.3),(14.9,-1.05),(15.2,-0.8),(15.5,-0.55),(15.8,-0.3),(16.1,-0.1),(16.3,0),(16.6,0.25),(16.9,0.55),(17.2,0.85),(17.5,1.2),(17.8,1.55),(18.06,1.9),(18.11,0.5),(18.16,-1.2),(18.25,-1.35),(18.6,-1.3),(18.9,-1.2),(19.25,-1.05),(19.33,-0.5),(19.4,-0.3),(19.8,-0.22),(19.95,-0.2),(20.02,0.6),(20.08,1.52),(20.16,0.8),(20.28,0.05),(20.7,0.05),(21.1,0.05),(21.2,0.6),(21.3,1.8),(21.4,3.2),(21.47,4.25),(21.55,2.5),(21.63,0),(21.72,-1.8),(21.8,-2.8),(21.85,-3.1),(21.95,-2.6),(22.1,-2.0),(22.24,-1.6)]
FF_MID_PIP = [(0,0.25),(2.0,0.25),(2.18,-1.6),(2.5,-1.0),(3.0,-0.5),(3.5,-0.1),(4.0,0.15),(4.5,0.45),(5.0,0.9),(5.5,1.35),(5.88,1.75),(5.98,-1.0),(6.5,-1.0),(7.05,-0.85),(7.15,-0.3),(7.7,-0.15),(7.85,1.3),(8.05,0.1),(8.85,0.1),(9.24,3.6),(9.4,0),(9.67,-2.6),(10.0,-1.3),(10.5,-0.2),(11.0,0.35),(11.81,1.3),(12.3,-1.2),(12.79,-2.6),(13.05,-0.3),(13.55,-0.25),(14.12,5.5),(14.3,1.5),(14.53,-1.3),(15.0,-0.8),(16.0,-0.1),(17.0,0.6),(18.06,1.6),(18.16,-1.0),(19.25,-0.9),(19.35,-0.3),(19.95,-0.15),(20.08,1.3),(20.28,0.1),(21.1,0.1),(21.47,3.6),(21.63,0),(21.85,-2.6),(22.24,-1.3)]

COLUMN_TITLES = ["pooly tuned PID", "well-tuned PID", "Feedforward + PD"]
TOP_TITLE = "Tip Z: reference vs actual"
BOTTOM_TITLES = ["Per-joint tracking error (cmd \u2212 actual)\u00a0\u00a0\u00a0Kp=12.5\u00a0\u00a0Ki=0.5\u00a0\u00a0Kd=0.03",
                 "Per-joint tracking error (cmd \u2212 actual)\u00a0\u00a0\u00a0Kp=10.5\u00a0\u00a0Ki=0.5\u00a0\u00a0Kd=0.03",
                 "Per-joint tracking error (cmd - actual)"]
ERR_LABELS = ["Joint error [\u00b0]", "Joint error [\u00b0]", "Joint error [deg]"]
BELT_NAME = "belt start (t=2.0s)"

# ---------------- styling ----------------
C_IDX = "#4682B4"
C_MID = "#FF8C00"
C_IDX_PIP = "#6495ED"
C_MID_PIP = "#FFD700"
C_BELT = "#8c8c8c"
FONT = "DejaVu Sans"
SOLID = "solid"
REFD = "6px,3px"
PIPD = "5px,2.5px"
BELTD = "5px,3px"


def xy(pts):
    return [p[0] for p in pts], [p[1] for p in pts]


def px(v):
    return v / W


def py(v):
    return 1 - v / H


# series: (name, data, colour, width, dash, legend slot (column,row))
panels = [
    dict(dx=(106, 1373), dy=(143.3, 474.3), xr=[-1.39, 29.19], yr=[75.64, 150.38],
         yt=[80, 90, 100, 110, 120, 130, 140, 150], xt=[0, 5, 10, 15, 20, 25], bottom=False,
         series=[("index ref", PID_IDX_REF, C_IDX, 1.8, REFD, (0, 0)),
                 ("index actual", P1_IDX_ACT, C_IDX, 2.2, SOLID, (0, 1)),
                 ("middle ref", PID_MID_REF, C_MID, 1.8, REFD, (1, 0)),
                 ("middle actual", P1_MID_ACT, C_MID, 2.2, SOLID, (1, 1))],
         belt_slot=(2, 0),
         leg=dict(box=(111.6, 149, 563, 194), rows=[160.7, 180.7], cols=[117, 257, 406.8])),
    dict(dx=(110, 1377.7), dy=(529, 861), xr=[-1.39, 29.19], yr=[-17.7, 44.23],
         yt=[-10, 0, 10, 20, 30, 40], xt=[0, 5, 10, 15, 20, 25], bottom=True,
         series=[("index MCP err", P1_IDX_MCP, C_IDX, 1.5, SOLID, (0, 0)),
                 ("index PIP err", P1_IDX_PIP, C_IDX_PIP, 1.2, PIPD, (0, 1)),
                 ("middle MCP err", P1_MID_MCP, C_MID, 1.5, SOLID, (1, 0)),
                 ("middle PIP err", P1_MID_PIP, C_MID_PIP, 1.2, PIPD, (1, 1))],
         belt_slot=(2, 0),
         leg=dict(box=(507.2, 536, 980.3, 580.7), rows=[547.7, 568.3], cols=[513, 663.6, 824])),
    dict(dx=(1483, 2761), dy=(142.9, 473.6), xr=[-1.39, 29.19], yr=[75.3, 138.48],
         yt=[80, 90, 100, 110, 120, 130], xt=[0, 5, 10, 15, 20, 25], bottom=False,
         series=[("index ref", PID_IDX_REF, C_IDX, 1.8, REFD, (0, 0)),
                 ("index actual", P2_IDX_ACT, C_IDX, 2.2, SOLID, (0, 1)),
                 ("middle ref", PID_MID_REF, C_MID, 1.8, REFD, (1, 0)),
                 ("middle actual", P2_MID_ACT, C_MID, 2.2, SOLID, (1, 1))],
         belt_slot=(2, 0),
         leg=dict(box=(1490, 148.9, 1941, 193.3), rows=[160.3, 180.7], cols=[1494.6, 1634.8, 1784])),
    dict(dx=(1482.5, 2761), dy=(533.3, 863.3), xr=[-1.39, 29.19], yr=[-9.65, 13.7],
         yt=[-5, 0, 5, 10], xt=[0, 5, 10, 15, 20, 25], bottom=True,
         series=[("index MCP err", P2_IDX_MCP, C_IDX, 1.5, SOLID, (0, 0)),
                 ("index PIP err", P2_IDX_PIP, C_IDX_PIP, 1.2, PIPD, (0, 1)),
                 ("middle MCP err", P2_MID_MCP, C_MID, 1.5, SOLID, (1, 0)),
                 ("middle PIP err", P2_MID_PIP, C_MID_PIP, 1.2, PIPD, (1, 1))],
         belt_slot=(2, 0),
         leg=dict(box=(1488, 539.3, 1962, 583.3), rows=[551, 571.3], cols=[1494.8, 1647, 1807.4])),
    dict(dx=(2876, 4179), dy=(142, 475), xr=[-1.11, 23.34], yr=[81.6, 141.35],
         yt=[90, 100, 110, 120, 130, 140], xt=[0, 5, 10, 15, 20], bottom=False,
         series=[("index ref", FF_IDX_REF, C_IDX, 1.8, REFD, (0, 0)),
                 ("index actual", FF_IDX_ACT, C_IDX, 2.2, SOLID, (0, 1)),
                 ("middle ref", FF_MID_REF, C_MID, 1.8, REFD, (1, 0)),
                 ("middle actual", FF_MID_ACT, C_MID, 2.2, SOLID, (1, 1))],
         belt_slot=(2, 0),
         leg=dict(box=(3714.3, 148, 4174.8, 195.3), rows=[161.3, 182], cols=[3720.2, 3863.3, 4016.6])),
    dict(dx=(2876, 4179), dy=(532.7, 866), xr=[-1.11, 23.34], yr=[-4.0, 8.52],
         yt=[-2, 0, 2, 4, 6, 8], xt=[0, 5, 10, 15, 20], bottom=True,
         series=[("index MCP err", FF_IDX_MCP, C_IDX, 1.5, SOLID, (0, 0)),
                 ("index PIP err", FF_IDX_PIP, C_IDX_PIP, 1.2, PIPD, (0, 1)),
                 ("middle MCP err", FF_MID_MCP, C_MID, 1.5, SOLID, (1, 0)),
                 ("middle PIP err", FF_MID_PIP, C_MID_PIP, 1.2, PIPD, (2, 0))],
         belt_slot=(3, 0),
         leg=dict(box=(2882.6, 538.3, 3520, 585), rows=[551, 571.7], cols=[2886.8, 3042.6, 3206.7, 3360.8])),
]

HANDLE_LEN = 26
TEXT_OFF = 36
LEG_FONT = 12.8

fig = go.Figure()
layout = dict(width=W, height=H, autosize=False, margin=dict(l=0, r=0, t=0, b=0, pad=0),
              paper_bgcolor="white", plot_bgcolor="white", showlegend=False,
              font=dict(family=FONT, size=16, color="#000"))
annotations = []
shapes = []


def rounded_box(x0, y0, x1, y1, r=4):
    X0, X1 = px(x0), px(x1)
    Y0, Y1 = py(y0), py(y1)
    rx, ry = r / W, r / H
    return (f"M{X0+rx},{Y0} L{X1-rx},{Y0} Q{X1},{Y0} {X1},{Y0-ry} L{X1},{Y1+ry} "
            f"Q{X1},{Y1} {X1-rx},{Y1} L{X0+rx},{Y1} Q{X0},{Y1} {X0},{Y1+ry} "
            f"L{X0},{Y0-ry} Q{X0},{Y0} {X0+rx},{Y0} Z")


def legend_entry(leg, slot, name, color, width, dash):
    hx = leg["cols"][slot[0]]
    hy = leg["rows"][slot[1]]
    shapes.append(dict(type="line", xref="paper", yref="paper", x0=px(hx), x1=px(hx + HANDLE_LEN),
                       y0=py(hy), y1=py(hy), layer="above",
                       line=dict(color=color, width=width, dash=dash)))
    annotations.append(dict(text=name, x=px(hx + TEXT_OFF), y=py(hy), xref="paper", yref="paper",
                            showarrow=False, xanchor="left", yanchor="middle", borderpad=0,
                            font=dict(family=FONT, size=LEG_FONT, color="#111")))


for i, p in enumerate(panels):
    n = i + 1
    sfx = "" if n == 1 else str(n)
    xa, ya = "x" + sfx, "y" + sfx
    for (name, pts, col, wdt, dash, slot) in p["series"]:
        x, y = xy(pts)
        fig.add_trace(go.Scatter(x=x, y=y, mode="lines", name=name, xaxis=xa, yaxis=ya,
                                 line=dict(color=col, width=wdt, dash=dash), hoverinfo="skip"))
    fig.add_trace(go.Scatter(x=[BELT_START, BELT_START], y=p["yr"], mode="lines", name=BELT_NAME,
                             xaxis=xa, yaxis=ya,
                             line=dict(color=C_BELT, width=1.2, dash=BELTD), hoverinfo="skip"))
    axis_common = dict(showline=True, linecolor="#333333", linewidth=1.4, mirror=True,
                       ticks="outside", ticklen=5, tickwidth=1.2, tickcolor="#333333",
                       showgrid=True, gridcolor="#e6e6e6", gridwidth=1, zeroline=False,
                       tickfont=dict(family=FONT, size=16, color="#222"))
    layout["xaxis" + sfx] = dict(axis_common, domain=[px(p["dx"][0]), px(p["dx"][1])],
                                 range=p["xr"], tickvals=p["xt"], anchor=ya,
                                 showticklabels=p["bottom"])
    layout["yaxis" + sfx] = dict(axis_common, domain=[py(p["dy"][1]), py(p["dy"][0])],
                                 range=p["yr"], tickvals=p["yt"], anchor=xa)
    if p["bottom"]:
        shapes.append(dict(type="line", xref=xa + " domain", x0=0, x1=1, yref=ya, y0=0, y1=0,
                           line=dict(color="#222", width=1.3), layer="above"))
    # legend box and entries
    leg = p["leg"]
    shapes.append(dict(type="path", xref="paper", yref="paper", path=rounded_box(*leg["box"]),
                       fillcolor="rgba(255,255,255,0.8)", layer="above",
                       line=dict(color="#d5d5d5", width=1)))
    for (name, pts, col, wdt, dash, slot) in p["series"]:
        legend_entry(leg, slot, name, col, wdt, dash)
    legend_entry(leg, p["belt_slot"], BELT_NAME, C_BELT, 1.2, BELTD)


def note(text, x, y, size, family=FONT, angle=0):
    return dict(text=text, x=px(x), y=py(y), xref="paper", yref="paper", showarrow=False,
                xanchor="center", yanchor="middle", textangle=angle,
                font=dict(family=family, size=size, color="#000"))


col_centers = [732, 2121, 3542]
for c, t in zip(col_centers, COLUMN_TITLES):
    annotations.append(note(t, c, 51, 49, family="Lato"))
top_title_y = [126, 126, 125]
bot_title_y = [513, 516, 515]
ylab_top_x = [47, 1425, 2816]
ylab_bot_x = [47, 1431, 2823]
ylab_bot_y = [696, 699, 699]
time_y = [900, 903, 906]
for k in range(3):
    pt, pb = panels[2 * k], panels[2 * k + 1]
    annotations.append(note(TOP_TITLE, sum(pt["dx"]) / 2, top_title_y[k], 19))
    annotations.append(note(BOTTOM_TITLES[k], sum(pb["dx"]) / 2, bot_title_y[k], 19))
    annotations.append(note("Tip Z [mm]", ylab_top_x[k], 309, 16, angle=-90))
    annotations.append(note(ERR_LABELS[k], ylab_bot_x[k], ylab_bot_y[k], 16, angle=-90))
    annotations.append(note("Time [s]", sum(pb["dx"]) / 2, time_y[k], 16))

layout["annotations"] = annotations
layout["shapes"] = shapes
fig.update_layout(**layout)
fig.write_html("out.html", config={"displayModeBar": False},
               post_script="document.body.style.margin='0px';")
